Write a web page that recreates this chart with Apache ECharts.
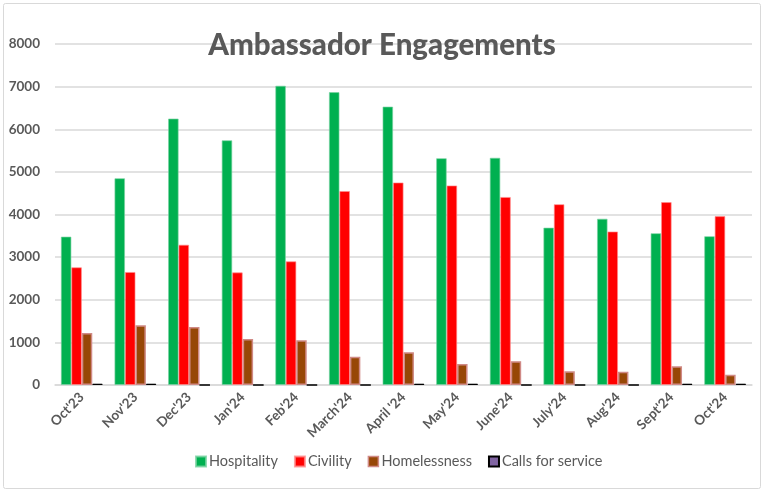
<!DOCTYPE html>
<html>
<head>
<meta charset="utf-8">
<script src="https://cdn.jsdelivr.net/npm/echarts@6/dist/echarts.min.js"></script>
<style>
  html, body { margin: 0; padding: 0; background: #ffffff; }
  #chart { width: 764px; height: 492px; }
</style>
</head>
<body>
<div id="chart"></div>
<script>
// Monthly ambassador engagement counts by type
const months = ["Oct'23", "Nov'23", "Dec'23", "Jan'24", "Feb'24", "March'24", "April '24",
                "May'24", "June'24", "July'24", "Aug'24", "Sept'24", "Oct'24"];
const hospitality   = [3480, 4850, 6250, 5740, 7020, 6870, 6530, 5320, 5330, 3690, 3900, 3560, 3490];
const civility      = [2760, 2650, 3290, 2640, 2900, 4550, 4750, 4680, 4410, 4240, 3600, 4290, 3960];
const homelessness  = [1220, 1400, 1360, 1080, 1050, 660, 770, 490, 560, 320, 310, 440, 240];
const callsService  = [30, 30, 0, 0, 0, 0, 30, 30, 0, 0, 0, 30, 30];
const yTicks = [0, 1000, 2000, 3000, 4000, 5000, 6000, 7000, 8000];

const textGrey = '#595959';
const font = 'Lato, "Open Sans", sans-serif';

const chart = echarts.init(document.getElementById('chart'), null, { renderer: 'canvas' });

function barSeries(name, data, fill, border, bw) {
  return {
    name: name,
    type: 'bar',
    data: data,
    barGap: '0%',
    barCategoryGap: '22%',
    itemStyle: { color: fill, borderColor: border, borderWidth: bw },
    emphasis: { disabled: true }
  };
}

chart.setOption({
  animation: false,
  backgroundColor: '#ffffff',
  graphic: [{
    type: 'rect',
    shape: { x: 3.5, y: 3.5, width: 757, height: 485, r: 2 },
    style: { fill: 'none', stroke: '#d9d9d9', lineWidth: 1 },
    z: -1
  }],
  title: {
    text: 'Ambassador Engagements',
    left: 'center',
    top: 25,
    textStyle: { fontFamily: font, fontWeight: 900, fontSize: 29.5, color: textGrey }
  },
  legend: {
    bottom: 18,
    left: 190,
    itemWidth: 10,
    itemHeight: 10,
    itemGap: 16,
    textStyle: { fontFamily: font, fontSize: 14.5, color: textGrey, padding: [0, 0, 0, -2] },
    data: [
      { name: 'Hospitality', icon: 'rect' },
      { name: 'Civility', icon: 'rect' },
      { name: 'Homelessness', icon: 'rect', itemStyle: { borderColor: '#d08a86', borderWidth: 1.5 } },
      { name: 'Calls for service', icon: 'rect' }
    ]
  },
  grid: { left: 55, right: 12, top: 44, bottom: 107 },
  xAxis: {
    type: 'category',
    data: months,
    axisTick: { show: false },
    axisLine: { lineStyle: { color: '#d9d9d9', width: 1.5 } },
    axisLabel: {
      rotate: 45,
      interval: 0,
      margin: 10,
      fontFamily: font,
      fontWeight: 'bold',
      fontSize: 13.5,
      color: textGrey
    }
  },
  yAxis: {
    type: 'value',
    min: yTicks[0],
    max: yTicks[yTicks.length - 1],
    interval: 1000,
    axisLine: { show: false },
    axisTick: { show: false },
    splitLine: { lineStyle: { color: '#d9d9d9', width: 1.5 } },
    axisLabel: {
      margin: 15,
      fontFamily: font,
      fontWeight: 'bold',
      fontSize: 13.5,
      color: textGrey,
      formatter: function (v) { return String(v); }
    }
  },
  series: [
    barSeries('Hospitality', hospitality, '#00B050', 'rgba(120,210,160,0.8)', 0.8),
    barSeries('Civility', civility, '#FF0000', 'rgba(255,140,140,0.8)', 0.8),
    barSeries('Homelessness', homelessness, '#974706', '#d08a86', 1.5),
    barSeries('Calls for service', callsService, '#8064A2', '#000000', 1)
  ]
});
</script>
</body>
</html>
